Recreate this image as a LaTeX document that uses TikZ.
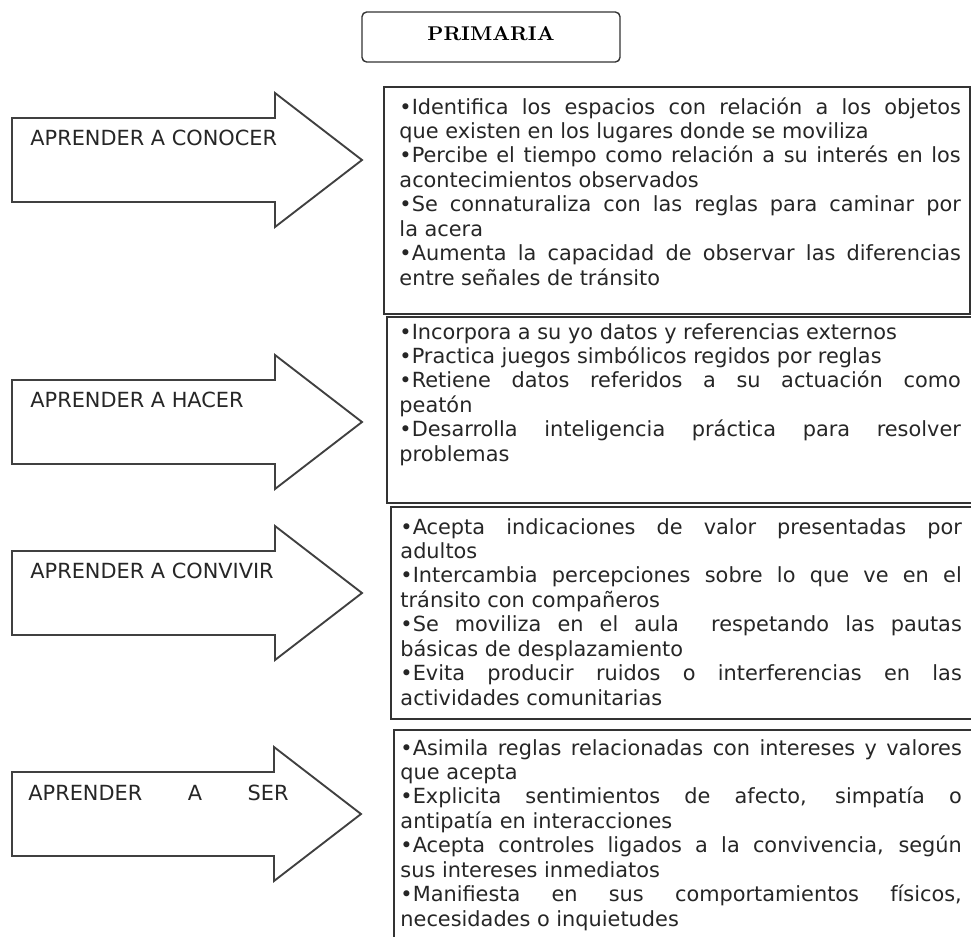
\documentclass[tikz,border=0pt]{standalone}
\usepackage{amsmath}
\usepackage{fontspec}
\usepackage{tikz}
\newfontfamily\verdana{DejaVu Sans}

\begin{document}
\begin{tikzpicture}[scale=0.15]
\tikzstyle{every node}+=[inner sep=0pt]
\tikzstyle{flecha}=[draw=black!75, line width=0.8pt, fill=white, line join=miter]
\tikzstyle{caja}=[draw=black!80, line width=0.6pt]
\tikzstyle{etiqueta}=[anchor=base west, text=black!85, font=\verdana\fontsize{8.9}{10.5}\selectfont]
\tikzstyle{lista}=[anchor=base west, text width=8.42cm, align=justify, text=black!85, font=\verdana\fontsize{8.9}{10.45}\selectfont\sloppy]
\clip (0,0) rectangle (97.1,-93.6);
\draw [caja, rounded corners=2pt] (36.2,-1.2) rectangle (62.0,-6.2);
\draw (49.1,-3.4) node (primaria) {\fontsize{8.5}{10}\selectfont\bfseries PRIMARIA};
\draw [flecha] (1.2,-11.8) -- (27.5,-11.8) -- (27.5,-9.3) -- (36.2,-16.0) -- (27.5,-22.7) -- (27.5,-20.2) -- (1.2,-20.2) -- cycle;
\draw (3.0,-14.5) node[etiqueta] (conocer) {APRENDER A CONOCER};
\draw [flecha] (1.2,-38.0) -- (27.5,-38.0) -- (27.5,-35.5) -- (36.2,-42.2) -- (27.5,-48.9) -- (27.5,-46.4) -- (1.2,-46.4) -- cycle;
\draw (3.0,-40.7) node[etiqueta] (hacer) {APRENDER A HACER};
\draw [flecha] (1.2,-55.1) -- (27.5,-55.1) -- (27.5,-52.6) -- (36.2,-59.3) -- (27.5,-66.0) -- (27.5,-63.5) -- (1.2,-63.5) -- cycle;
\draw (3.0,-57.8) node[etiqueta] (convivir) {APRENDER A CONVIVIR};
\draw [flecha] (1.2,-77.2) -- (27.4,-77.2) -- (27.4,-74.7) -- (36.1,-81.4) -- (27.4,-88.1) -- (27.4,-85.6) -- (1.2,-85.6) -- cycle;
\draw (2.8,-80.0) node[etiqueta] (ser) {\makebox[3.9cm][s]{APRENDER A SER}};
\draw [caja] (38.4,-8.7) rectangle (97.0,-31.4);
\draw (39.9,-11.4) node[lista] (listaConocer) {%
•Identifica los espacios con relación a los objetos\linebreak que existen en los lugares donde se moviliza\par
•Percibe el tiempo como relación a su interés en los\linebreak acontecimientos observados\par
•Se connaturaliza con las reglas para caminar por\linebreak la acera\par
•Aumenta la capacidad de observar las diferencias\linebreak entre señales de tránsito};
\draw [caja] (38.7,-31.7) rectangle (98.0,-50.3);
\draw (39.9,-33.9) node[lista] (listaHacer) {%
•Incorpora a su yo datos y referencias externos\par
•Practica juegos simbólicos regidos por reglas\par
•Retiene datos referidos a su actuación como\linebreak peatón\par
•Desarrolla inteligencia práctica para resolver\linebreak problemas};
\draw [caja] (39.1,-50.7) rectangle (98.0,-71.9);
\draw (40.0,-53.4) node[lista] (listaConvivir) {%
•Acepta indicaciones de valor presentadas por\linebreak adultos\par
•Intercambia percepciones sobre lo que ve en el\linebreak tránsito con compañeros\par
•Se moviliza en el aula \ respetando las pautas\linebreak básicas de desplazamiento\par
•Evita producir ruidos o interferencias en las\linebreak actividades comunitarias};
\draw [caja] (39.4,-73.0) rectangle (98.0,-95.0);
\draw (40.0,-75.5) node[lista] (listaSer) {%
•Asimila reglas relacionadas con intereses y valores\linebreak que acepta\par
•Explicita sentimientos de afecto, simpatía o\linebreak antipatía en interacciones\par
•Acepta controles ligados a la convivencia, según\linebreak sus intereses inmediatos\par
•Manifiesta en sus comportamientos físicos,\linebreak necesidades o inquietudes};
\end{tikzpicture}
\end{document}
